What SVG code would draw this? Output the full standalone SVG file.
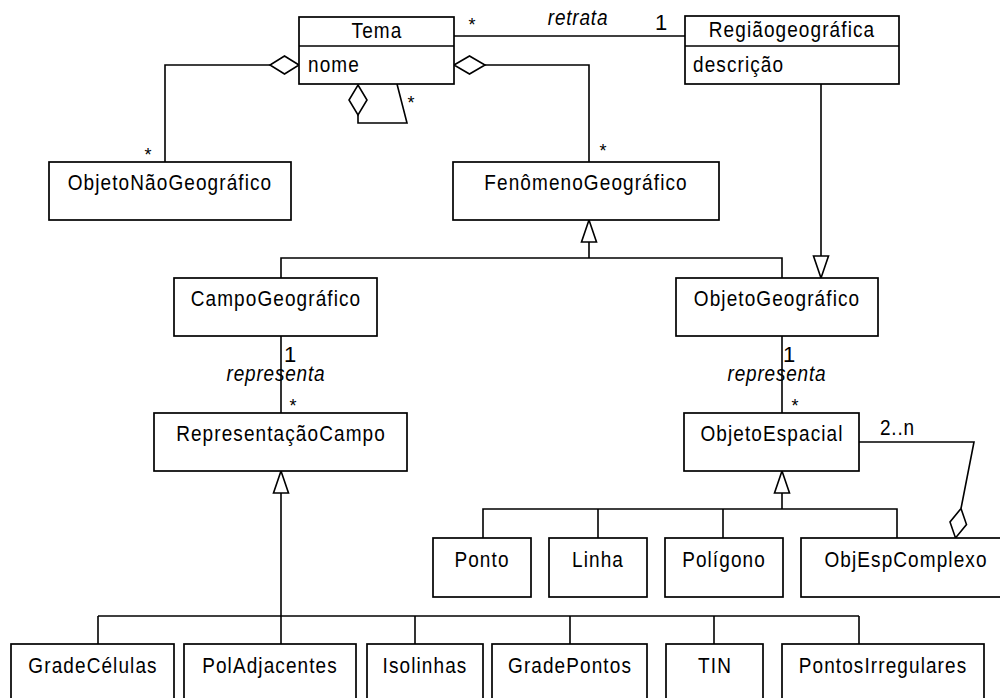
<svg xmlns="http://www.w3.org/2000/svg" width="1000" height="698" viewBox="0 0 1000 698">
<style>
.box{fill:#fff;stroke:#000;stroke-width:1.7}
.ln{fill:none;stroke:#000;stroke-width:1.6}
.head{fill:#fff;stroke:#000;stroke-width:1.6}
text{font-family:"Liberation Sans",Arial,sans-serif;font-size:19px;letter-spacing:1.1px;fill:#000}
.c{text-anchor:middle}
.it{font-style:italic;letter-spacing:0.8px}
.star{font-size:18px;letter-spacing:0;text-anchor:middle}
.one{font-size:22px;letter-spacing:0;text-anchor:middle}
</style>
<rect width="1000" height="698" fill="#fff"/>
<g id="connectors">
  <line class="ln" x1="454" y1="36" x2="685" y2="36"/>
  <text class="star" x="472" y="31">*</text>
  <text class="it c" transform="translate(578,25) scale(1,1.12)">retrata</text>
  <text class="one" x="661" y="30">1</text>
  <polyline class="ln" points="270,65 165,65 165,162"/>
  <polygon class="head" points="299,65 284.5,56 270,65 284.5,74"/>
  <text class="star" x="148" y="161">*</text>
  <polyline class="ln" points="485,65 589,65 589,162"/>
  <polygon class="head" points="454,65 469.5,56 485,65 469.5,74"/>
  <text class="star" x="603" y="157">*</text>
  <polyline class="ln" points="358,115 358,123 407,123 397,84"/>
  <polygon class="head" points="358,85 367,100 358,115 349,100"/>
  <text class="star" x="411" y="109">*</text>
  <polyline class="ln" points="281,278 281,258 782,258 782,278"/>
  <line class="ln" x1="589" y1="242" x2="589" y2="258"/>
  <polygon class="head" points="589,220 596.5,242 581.5,242"/>
  <line class="ln" x1="821" y1="84" x2="821" y2="256"/>
  <polygon class="head" points="821,278 828.5,256 813.5,256"/>
  <line class="ln" x1="281" y1="336" x2="281" y2="413"/>
  <text class="one" x="290" y="362">1</text>
  <text class="it c" transform="translate(276,381) scale(1,1.12)">representa</text>
  <text class="star" x="293" y="412">*</text>
  <line class="ln" x1="782" y1="336" x2="782" y2="413"/>
  <text class="one" x="789" y="362">1</text>
  <text class="it c" transform="translate(777,381) scale(1,1.12)">representa</text>
  <text class="star" x="795" y="412">*</text>
  <line class="ln" x1="281" y1="493" x2="281" y2="644"/>
  <polygon class="head" points="281,471 288.5,493 273.5,493"/>
  <line class="ln" x1="98" y1="616" x2="859" y2="616"/>
  <line class="ln" x1="98" y1="616" x2="98" y2="644"/>
  <line class="ln" x1="415" y1="616" x2="415" y2="644"/>
  <line class="ln" x1="570" y1="616" x2="570" y2="644"/>
  <line class="ln" x1="714" y1="616" x2="714" y2="644"/>
  <line class="ln" x1="859" y1="616" x2="859" y2="644"/>
  <line class="ln" x1="782" y1="493" x2="782" y2="509"/>
  <polygon class="head" points="782,471 789.5,493 774.5,493"/>
  <polyline class="ln" points="483,538 483,509 897,509 897,538"/>
  <line class="ln" x1="598" y1="509" x2="598" y2="538"/>
  <line class="ln" x1="723" y1="509" x2="723" y2="538"/>
  <polyline class="ln" points="859,442 974,442 961,508.5"/>
  <polygon class="head" points="961,508.5 966.5,524.5 955.5,538 950,522"/>
  <text transform="translate(880,435) scale(1,1.12)" style="letter-spacing:0.8px">2..n</text>
</g>
<g id="Tema">
  <rect class="box" x="299" y="17" width="155" height="67"/>
  <line class="ln" x1="299" y1="46" x2="454" y2="46"/>
  <text class="c" transform="translate(377,38) scale(1,1.12)">Tema</text>
  <text transform="translate(308,72) scale(1,1.12)">nome</text>
</g>
<g id="RegiaoGeografica">
  <rect class="box" x="685" y="16" width="214" height="68"/>
  <line class="ln" x1="685" y1="46" x2="899" y2="46"/>
  <text class="c" transform="translate(792,37) scale(1,1.12)">Regiãogeográfica</text>
  <text transform="translate(693,72) scale(1,1.12)">descrição</text>
</g>
<g id="ObjetoNaoGeografico">
  <rect class="box" x="49" y="162" width="242" height="58"/>
  <text class="c" transform="translate(170,190) scale(1,1.12)">ObjetoNãoGeográfico</text>
</g>
<g id="FenomenoGeografico">
  <rect class="box" x="453" y="162" width="266" height="58"/>
  <text class="c" transform="translate(586,190) scale(1,1.12)">FenômenoGeográfico</text>
</g>
<g id="CampoGeografico">
  <rect class="box" x="174" y="278" width="203" height="58"/>
  <text class="c" transform="translate(276,306) scale(1,1.12)">CampoGeográfico</text>
</g>
<g id="ObjetoGeografico">
  <rect class="box" x="676" y="278" width="202" height="58"/>
  <text class="c" transform="translate(777,306) scale(1,1.12)">ObjetoGeográfico</text>
</g>
<g id="RepresentacaoCampo">
  <rect class="box" x="154" y="413" width="253" height="58"/>
  <text class="c" transform="translate(281,441) scale(1,1.12)">RepresentaçãoCampo</text>
</g>
<g id="ObjetoEspacial">
  <rect class="box" x="684" y="413" width="175" height="58"/>
  <text class="c" transform="translate(772,441) scale(1,1.12)">ObjetoEspacial</text>
</g>
<g id="Ponto">
  <rect class="box" x="433" y="538" width="98" height="59"/>
  <text class="c" transform="translate(482,567) scale(1,1.12)">Ponto</text>
</g>
<g id="Linha">
  <rect class="box" x="549" y="538" width="98" height="59"/>
  <text class="c" transform="translate(598,567) scale(1,1.12)">Linha</text>
</g>
<g id="Poligono">
  <rect class="box" x="665" y="538" width="118" height="59"/>
  <text class="c" transform="translate(724,567) scale(1,1.12)">Polígono</text>
</g>
<g id="ObjEspComplexo">
  <rect class="box" x="801" y="538" width="210" height="59"/>
  <text class="c" transform="translate(906,567) scale(1,1.12)">ObjEspComplexo</text>
</g>
<g id="GradeCelulas">
  <rect class="box" x="11" y="644" width="163" height="70"/>
  <text class="c" transform="translate(93,673) scale(1,1.12)">GradeCélulas</text>
</g>
<g id="PolAdjacentes">
  <rect class="box" x="184" y="644" width="172" height="70"/>
  <text class="c" transform="translate(270,673) scale(1,1.12)">PolAdjacentes</text>
</g>
<g id="Isolinhas">
  <rect class="box" x="367" y="644" width="116" height="70"/>
  <text class="c" transform="translate(425,673) scale(1,1.12)">Isolinhas</text>
</g>
<g id="GradePontos">
  <rect class="box" x="492" y="644" width="155" height="70"/>
  <text class="c" transform="translate(570,673) scale(1,1.12)">GradePontos</text>
</g>
<g id="TIN">
  <rect class="box" x="666" y="644" width="97" height="70"/>
  <text class="c" transform="translate(715,673) scale(1,1.12)">TIN</text>
</g>
<g id="PontosIrregulares">
  <rect class="box" x="782" y="644" width="202" height="70"/>
  <text class="c" transform="translate(883,673) scale(1,1.12)">PontosIrregulares</text>
</g>
</svg>
